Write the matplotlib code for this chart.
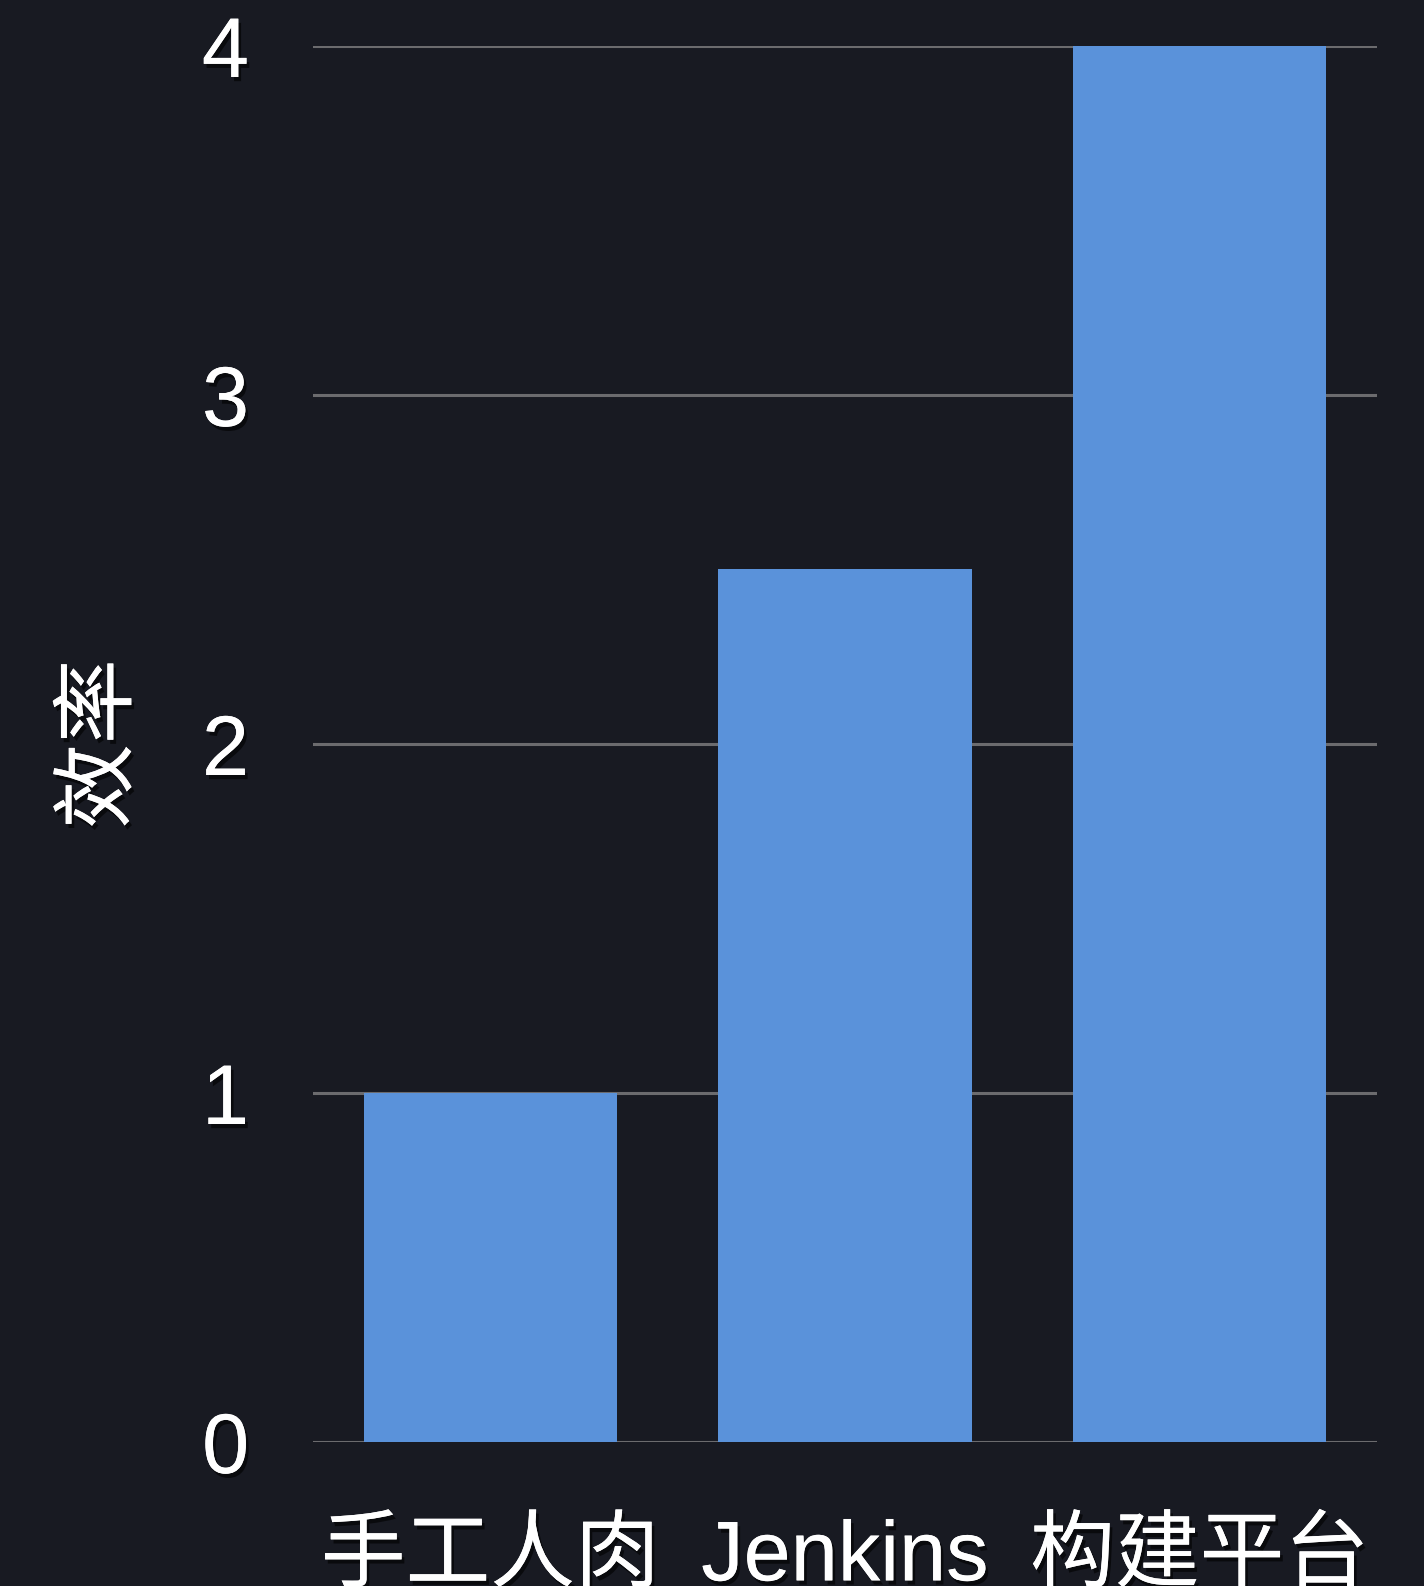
import matplotlib
matplotlib.use("Agg")
import matplotlib.pyplot as plt
import matplotlib.patheffects as pe
import numpy as np

# data
categories = ["手工人肉", "Jenkins", "构建平台"]
values = [1, 2.5, 4]
y_ticks = [0, 1, 2, 3, 4]
y_label = "效率"

bg = "#181a22"
bar_color = "#5a92da"
grid_color = "#6b6b6e"

plt.rcParams['font.family'] = ['Liberation Sans', 'Noto Sans CJK SC', 'DejaVu Sans']

fig = plt.figure(figsize=(14.24, 15.86), dpi=100, facecolor=bg)
ax = fig.add_axes([0.2198, 0.0908, 0.7472, 0.8802])
ax.set_facecolor(bg)

shadow = [pe.withSimplePatchShadow(offset=(2, -3), shadow_rgbFace="black", alpha=0.6), pe.Normal()]

x = np.arange(len(categories))
ax.bar(x, values, width=0.715, color=bar_color, zorder=3)

ax.set_xlim(-0.5, len(categories) - 0.5)
ax.set_ylim(0, 4)
ax.set_yticks(y_ticks)
ax.set_yticklabels([str(t) for t in y_ticks])
ax.set_xticks(x)
ax.set_xticklabels(categories)

ax.grid(axis="y", color=grid_color, linewidth=2.2, zorder=0)
ax.set_axisbelow(True)
for s in ax.spines.values():
    s.set_visible(False)
ax.tick_params(axis="both", length=0, colors="white")
ax.tick_params(axis="y", pad=46, labelsize=61)
ax.tick_params(axis="x", pad=55, labelsize=61)
for lbl in ax.get_yticklabels() + ax.get_xticklabels():
    lbl.set_path_effects(shadow)

ax.set_ylabel(y_label, color="white", fontsize=61, labelpad=42,
              family=['Noto Sans CJK SC', 'DejaVu Sans'], path_effects=shadow)

fig.savefig("out.png", dpi=100, facecolor=bg)
